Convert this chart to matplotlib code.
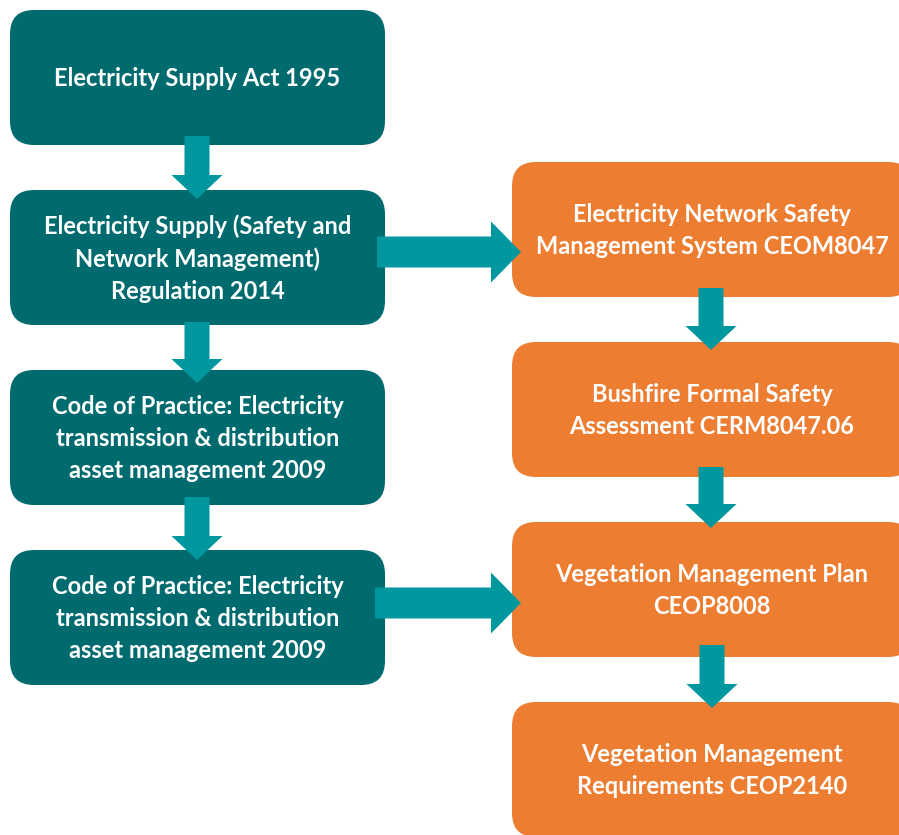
import matplotlib.pyplot as plt
from matplotlib.patches import FancyBboxPatch, FancyArrow

# box labels
left_labels = [
    "Electricity Supply Act 1995",
    "Electricity Supply (Safety and\nNetwork Management)\nRegulation 2014",
    "Code of Practice: Electricity\ntransmission & distribution\nasset management 2009",
    "Code of Practice: Electricity\ntransmission & distribution\nasset management 2009",
]
right_labels = [
    "Electricity Network Safety\nManagement System CEOM8047",
    "Bushfire Formal Safety\nAssessment CERM8047.06",
    "Vegetation Management Plan\nCEOP8008",
    "Vegetation Management\nRequirements CEOP2140",
]
left_tops = [10, 190, 370, 550]
right_tops = [162, 342, 522, 702]

teal_box = "#006B6F"
teal_arrow = "#00979F"
orange = "#ED7D31"

fig = plt.figure(figsize=(8.99, 8.35), dpi=100)
ax = fig.add_axes([0, 0, 1, 1])
ax.set_xlim(0, 899)
ax.set_ylim(835, 0)
ax.axis("off")

box_h = 135
lx0, lx1 = 10, 385
rx0, rx1 = 512, 912

def box(x0, x1, top, color, label):
    p = FancyBboxPatch((x0, top), x1 - x0, box_h,
                       boxstyle="round,pad=0,rounding_size=24",
                       fc=color, ec="none", zorder=1)
    ax.add_patch(p)
    ax.text((x0 + x1) / 2, top + box_h / 2 + 1, label, color="white",
            fontsize=17, fontweight="bold", family="Lato",
            ha="center", va="center", linespacing=1.47, zorder=3)

for t, lab in zip(left_tops, left_labels):
    box(lx0, lx1, t, teal_box, lab)
for t, lab in zip(right_tops, right_labels):
    box(rx0, rx1, t, orange, lab)

def down(xc, y0, y1):
    ax.add_patch(FancyArrow(xc, y0, 0, y1 - y0, width=25, head_width=51,
                            head_length=24, length_includes_head=True,
                            fc=teal_arrow, ec="none", zorder=2))

def right(yc, x0, x1):
    ax.add_patch(FancyArrow(x0, yc, x1 - x0, 0, width=31, head_width=61,
                            head_length=30, length_includes_head=True,
                            fc=teal_arrow, ec="none", zorder=2))

# left column arrows
down(197, 136, 199)
down(197, 322, 383)
down(197, 497, 560)
# right column arrows
down(711, 288, 350)
down(711, 467, 528)
down(712, 645, 708)
# across
right(252, 377, 521)
right(603, 375, 521)

fig.savefig("out.png", dpi=100)
